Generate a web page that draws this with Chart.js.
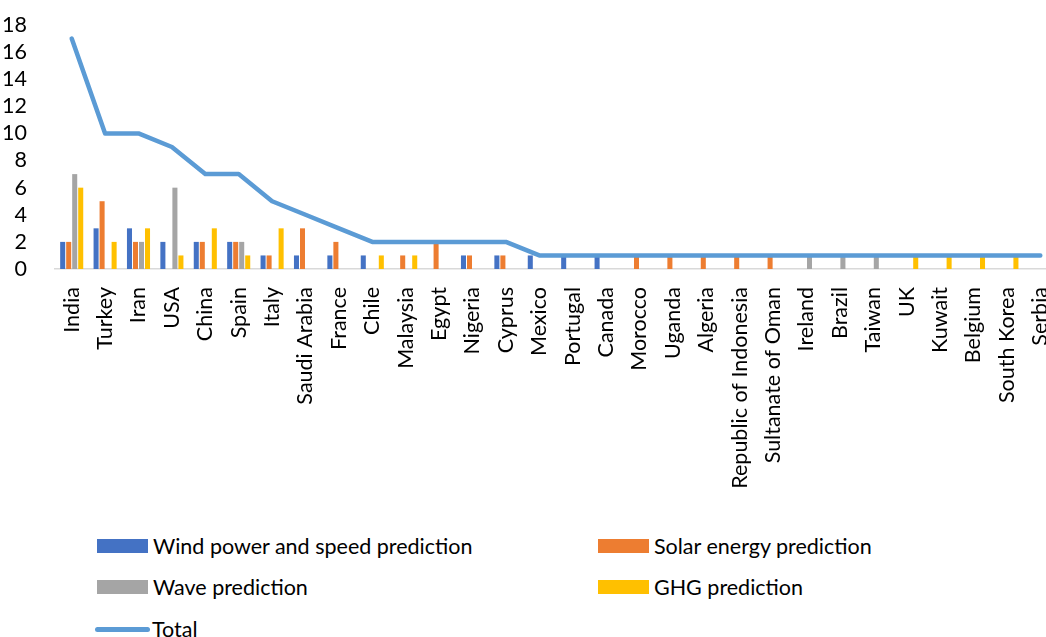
<!DOCTYPE html>
<html>
<head>
<meta charset="utf-8">
<script src="https://cdn.jsdelivr.net/npm/chart.js@4.4.1/dist/chart.umd.min.js"></script>
<style>
  html, body { margin: 0; padding: 0; background: #fff; overflow: hidden; width: 1046px; height: 637px; }
  #wrap { position: absolute; left: 0; top: 0; }
  .lg { position: absolute; font-family: Lato, "Open Sans", sans-serif; font-size: 21.5px; color: #000; white-space: nowrap; line-height: 24px; }
  .sw { position: absolute; width: 51px; height: 14px; }
  .ln { position: absolute; width: 55px; height: 5px; border-radius: 3px; background: #5b9bd5; }
</style>
</head>
<body>
<div id="wrap"><canvas id="c" width="1057" height="510"></canvas></div>

<div class="sw" style="left:97px; top:539px; background:#4472c4"></div>
<div class="lg" style="left:153px; top:534px">Wind power and speed prediction</div>
<div class="sw" style="left:598px; top:539px; background:#ed7d31"></div>
<div class="lg" style="left:654px; top:534px">Solar energy prediction</div>
<div class="sw" style="left:97px; top:580px; background:#a5a5a5"></div>
<div class="lg" style="left:153px; top:575px">Wave prediction</div>
<div class="sw" style="left:598px; top:580px; background:#ffc000"></div>
<div class="lg" style="left:654px; top:575px">GHG prediction</div>
<div class="ln" style="left:95px; top:627px"></div>
<div class="lg" style="left:152px; top:617px">Total</div>

<script>
// Publications by country and prediction topic
const countries = ["India", "Turkey", "Iran", "USA", "China", "Spain", "Italy", "Saudi Arabia",
  "France", "Chile", "Malaysia", "Egypt", "Nigeria", "Cyprus", "Mexico", "Portugal", "Canada",
  "Morocco", "Uganda", "Algeria", "Republic of Indonesia", "Sultanate of Oman", "Ireland",
  "Brazil", "Taiwan", "UK", "Kuwait", "Belgium", "South Korea", "Serbia"];

const windPower = [2, 3, 3, 2, 2, 2, 1, 1, 1, 1, 0, 0, 1, 1, 1, 1, 1, 0, 0, 0, 0, 0, 0, 0, 0, 0, 0, 0, 0, 0];
const solarEnergy = [2, 5, 2, 0, 2, 2, 1, 3, 2, 0, 1, 2, 1, 1, 0, 0, 0, 1, 1, 1, 1, 1, 0, 0, 0, 0, 0, 0, 0, 0];
const wave = [7, 0, 2, 6, 0, 2, 0, 0, 0, 0, 0, 0, 0, 0, 0, 0, 0, 0, 0, 0, 0, 0, 1, 1, 1, 0, 0, 0, 0, 0];
const ghg = [6, 2, 3, 1, 3, 1, 3, 0, 0, 1, 1, 0, 0, 0, 0, 0, 0, 0, 0, 0, 0, 0, 0, 0, 0, 1, 1, 1, 1, 1];
const total = [17, 10, 10, 9, 7, 7, 5, 4, 3, 2, 2, 2, 2, 2, 1, 1, 1, 1, 1, 1, 1, 1, 1, 1, 1, 1, 1, 1, 1, 1];

const yTicks = [0, 2, 4, 6, 8, 10, 12, 14, 16, 18];

const FONT = "Lato, 'Open Sans', sans-serif";
const CANVAS_H = 510;
const PLOT_TOP = 25;
const PLOT_BOTTOM = 269;

const barStyle = { barPercentage: 0.84, categoryPercentage: 0.72, borderWidth: 0, order: 1 };

new Chart(document.getElementById('c'), {
  type: 'bar',
  data: {
    labels: countries,
    datasets: [
      { label: 'Wind power and speed prediction', data: windPower, backgroundColor: '#4472c4', ...barStyle },
      { label: 'Solar energy prediction', data: solarEnergy, backgroundColor: '#ed7d31', ...barStyle },
      { label: 'Wave prediction', data: wave, backgroundColor: '#a5a5a5', ...barStyle },
      { label: 'GHG prediction', data: ghg, backgroundColor: '#ffc000', ...barStyle },
      {
        type: 'line', label: 'Total', data: total, borderColor: '#5b9bd5', backgroundColor: '#5b9bd5',
        borderWidth: 4.5, pointRadius: 0, tension: 0, borderCapStyle: 'round', borderJoinStyle: 'round',
        order: 0
      }
    ]
  },
  options: {
    responsive: false,
    animation: false,
    layout: { padding: { top: PLOT_TOP, left: 0, right: 0, bottom: 0 } },
    plugins: { legend: { display: false }, tooltip: { enabled: false } },
    scales: {
      x: {
        grid: { display: false },
        border: { display: true, color: '#d9d9d9', width: 1.5 },
        ticks: { color: '#000', font: { family: FONT, size: 21.5 }, maxRotation: 90, minRotation: 90, padding: 10, autoSkip: false },
        afterFit: (s) => { s.height = CANVAS_H - PLOT_BOTTOM; s.paddingLeft = 0; s.paddingRight = 0; }
      },
      y: {
        min: 0, max: 18,
        afterBuildTicks: (s) => { s.ticks = yTicks.map(v => ({ value: v })); },
        grid: { display: false },
        border: { display: false },
        ticks: { color: '#000', font: { family: FONT, size: 21.5 }, padding: 20, autoSkip: false },
        afterFit: (s) => { s.width = 55; s.paddingTop = 0; s.paddingBottom = 0; }
      }
    }
  }
});
</script>
</body>
</html>
